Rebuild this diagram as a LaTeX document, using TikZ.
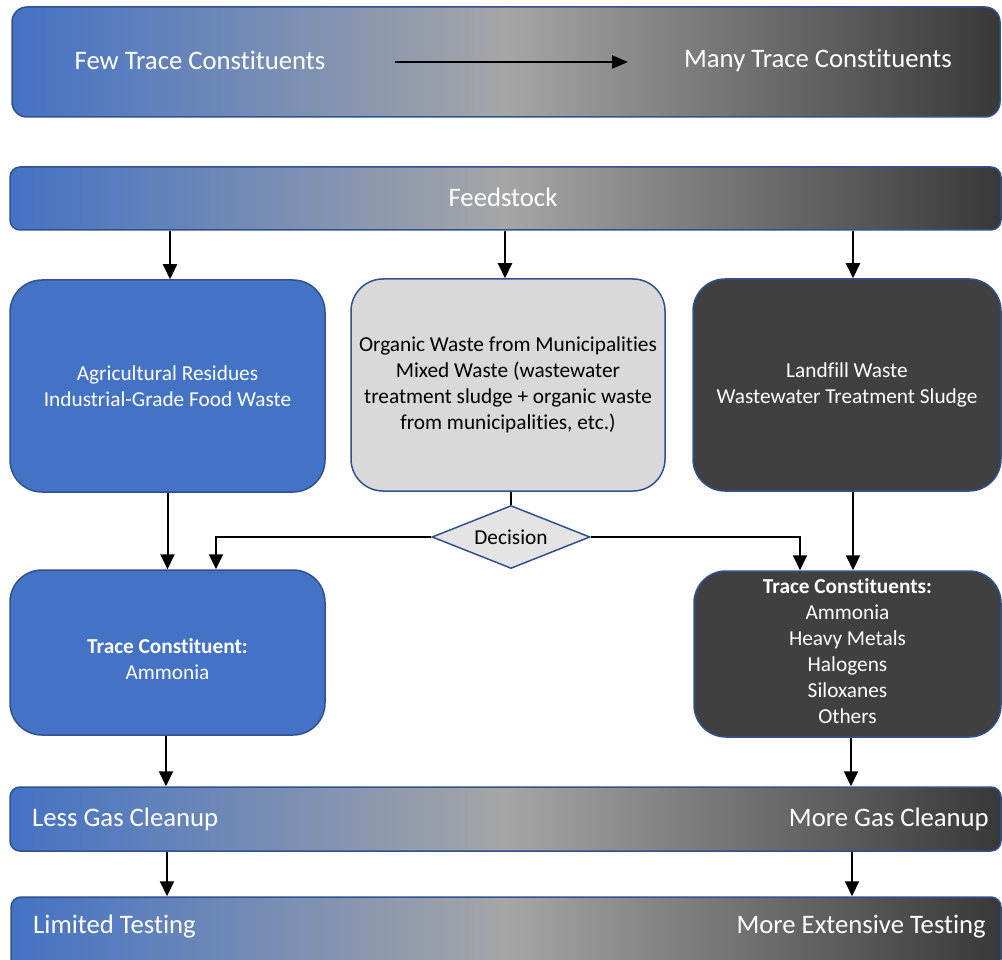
\documentclass[tikz,border=0pt]{standalone}
\usepackage{fontspec}
\setmainfont{Carlito}[RawFeature={-liga;-clig;-calt;-dlig}]
\usetikzlibrary{shapes.geometric,arrows.meta}
\definecolor{cblue}{HTML}{4472C4}
\definecolor{cgray}{HTML}{A6A6A6}
\definecolor{cdark}{HTML}{383838}
\definecolor{cedge}{HTML}{2F528F}
\definecolor{cbox}{HTML}{404040}
\definecolor{clight}{HTML}{D9D9D9}
\definecolor{cdia}{HTML}{E4E4E4}
\begin{document}
\begin{tikzpicture}[x=1pt,y=-1pt,
 bar/.style={draw=cedge, line width=1.5pt, rounded corners=10pt, left color=cblue, right color=cdark, middle color=cgray, inner sep=0pt},
 box/.style={draw=cedge, line width=1.5pt, rounded corners=32pt, inner sep=0pt, align=center, font=\fontsize{21.3}{26}\selectfont},
 big/.style={text=white, font=\fontsize{26.7}{32}\selectfont, inner sep=0pt},
 arr/.style={line width=2pt, -{Triangle[length=15pt,width=14pt]}},
 ln/.style={line width=2pt}]
\useasboundingbox (0,0) rectangle (1002,960);

% bars
\node[bar, rounded corners=15pt, minimum width=988pt, minimum height=110pt] (top) at (506,62) {};
\node[big] (few) at (200,60) {Few Trace Constituents};
\node[big] (many) at (818,60) {Many Trace Constituents};
\coordinate (a1) at (395,62);
\coordinate (a2) at (628,62);
\draw[line width=2pt,-{Triangle[length=16pt,width=13pt]}] (a1) -- (a2);

\node[bar, minimum width=991pt, minimum height=63pt] (feed) at (505.5,198.5) {};
\node[big] (feedt) at (503,197) {Feedstock};

% boxes
\node[box, fill=cblue, text=white, minimum width=315pt, minimum height=212pt] (lb) at (167.5,386)
  {Agricultural Residues\\Industrial-Grade Food Waste};
\node[box, fill=clight, text=black, minimum width=314pt, minimum height=212pt] (mb) at (508,385)
  {Organic Waste from Municipalities\\Mixed Waste (wastewater\\treatment sludge + organic waste\\from municipalities, etc.)};
\node[box, fill=cbox, text=white, minimum width=308pt, minimum height=212pt] (rb) at (847,385)
  {Landfill Waste\\Wastewater Treatment Sludge};

\node[diamond, draw=cedge, line width=1.5pt, fill=cdia, aspect=2.5, inner sep=0pt,
  minimum width=158pt, minimum height=63pt, font=\fontsize{21.3}{26}\selectfont] (dec) at (511,537) {Decision};

\node[box, fill=cblue, text=white, minimum width=315pt, minimum height=165pt] (lt) at (167.5,652.5)
  {\rule{0pt}{28pt}\textbf{Trace Constituent:}\\Ammonia};
\node[box, fill=cbox, text=white, minimum width=307pt, minimum height=166pt] (rt) at (847.5,654)
  {\textbf{Trace Constituents:}\\Ammonia\\Heavy Metals\\Halogens\\Siloxanes\\Others\rule[-6pt]{0pt}{6pt}};

\node[bar, minimum width=991pt, minimum height=64pt] (clean) at (505.5,819) {};
\node[big, anchor=west] (less) at (32,819) {Less Gas Cleanup};
\node[big, anchor=east] (more) at (989,819) {More Gas Cleanup};

\node[bar, minimum width=990pt, minimum height=72pt] (test) at (506,933) {};
\node[big, anchor=west] (lim) at (33,927) {Limited Testing};
\node[big, anchor=east] (ext) at (986,927) {More Extensive Testing};

% connectors
\draw[arr] ([xshift=2.5pt]feed.south -| lb.north) -- ([xshift=2.5pt]lb.north);
\draw[arr] ([xshift=-3pt]feed.south -| mb.north) -- ([xshift=-3pt]mb.north);
\draw[arr] ([xshift=6pt]feed.south -| rb.north) -- ([xshift=6pt]rb.north);
\draw[arr] (lb.south) -- (lt.north);
\draw[ln] (dec.north |- mb.south) -- (dec.north);
\draw[arr] (dec.west) -| ([xshift=48.5pt]lt.north);
\draw[arr] (dec.east) -| ([xshift=-47.5pt]rt.north);
\draw[arr] ([xshift=6pt]rb.south) -- ([xshift=5.5pt]rt.north);
\draw[arr] ([xshift=-1.5pt]lt.south) -- ([xshift=-1.5pt]lt.south |- clean.north);
\draw[arr] ([xshift=3.5pt]rt.south) -- ([xshift=3.5pt]rt.south |- clean.north);
\draw[arr] ([xshift=-0.5pt]lt.south |- clean.south) -- ([xshift=-0.5pt]lt.south |- test.north);
\draw[arr] ([xshift=4.5pt]rt.south |- clean.south) -- ([xshift=4.5pt]rt.south |- test.north);
\end{tikzpicture}
\end{document}
